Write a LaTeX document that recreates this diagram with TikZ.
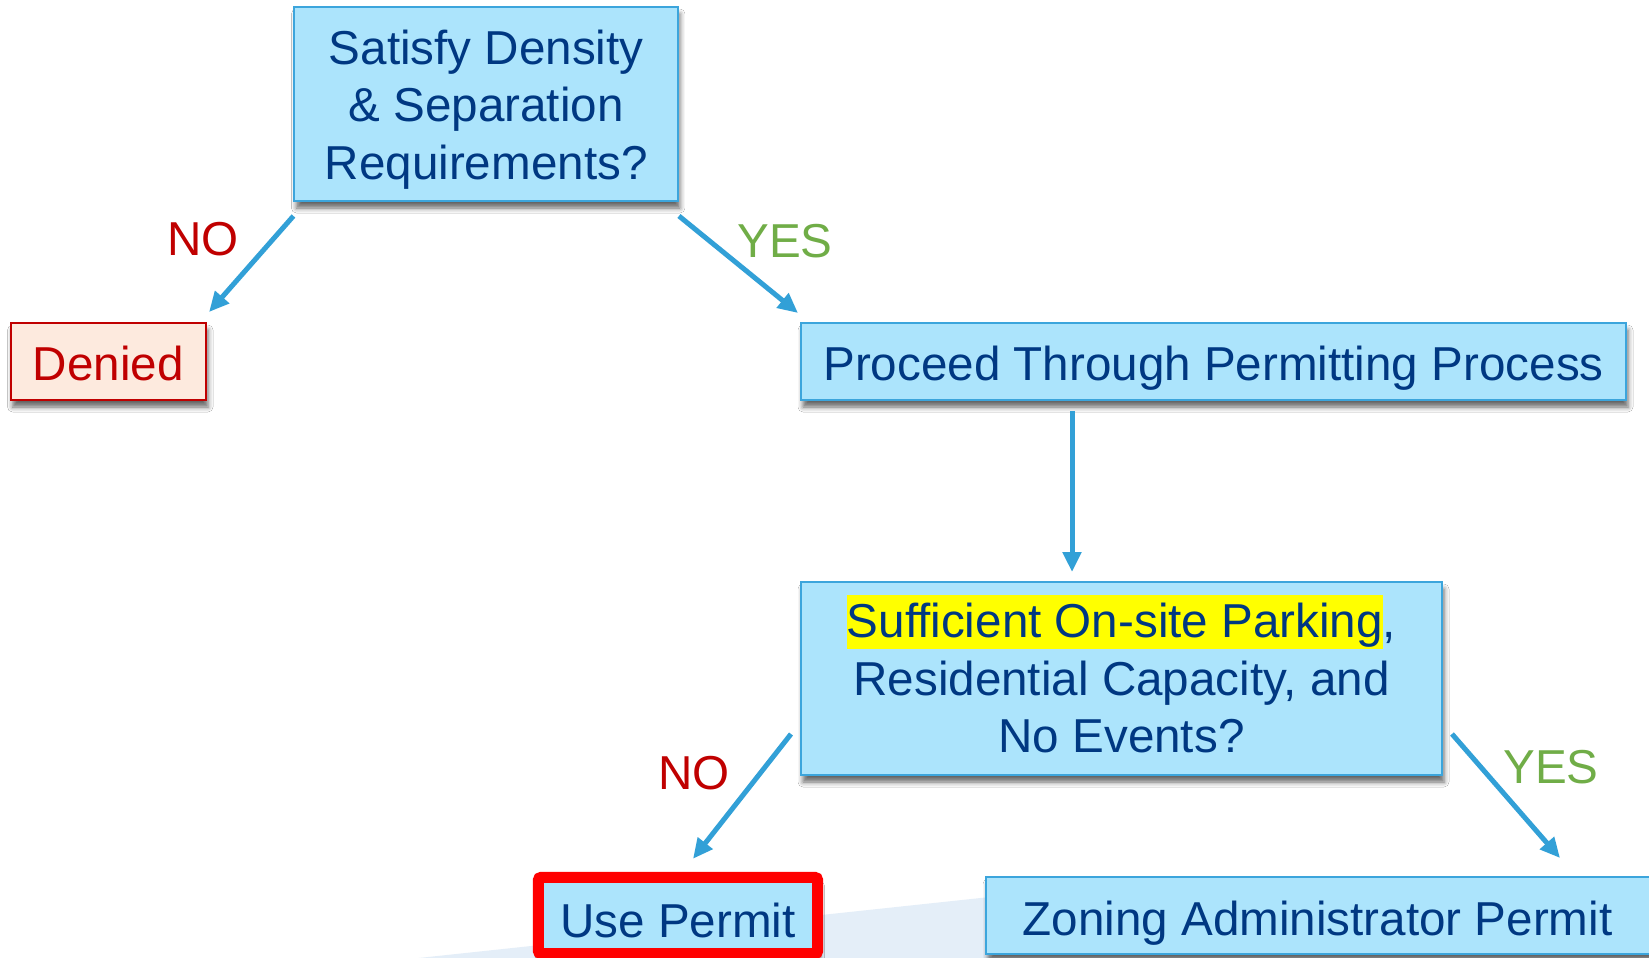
\documentclass[tikz,border=0pt]{standalone}
\usepackage{fontspec}
\setmainfont{Liberation Sans}
\usetikzlibrary{arrows.meta,calc,fit,shadows.blur}
\definecolor{boxfill}{RGB}{172,228,252}
\definecolor{boxline}{RGB}{60,165,220}
\definecolor{txtblue}{RGB}{0,56,130}
\definecolor{arrowc}{RGB}{50,160,215}
\definecolor{nored}{RGB}{192,0,0}
\definecolor{yesgreen}{RGB}{112,173,71}
\definecolor{denfill}{RGB}{253,234,222}
\definecolor{hlyellow}{RGB}{255,255,0}
\definecolor{swoosh}{RGB}{228,238,248}
\newcommand\hlbox[1]{{\setlength{\fboxsep}{0pt}\colorbox{hlyellow}{\rule[-0.23em]{0pt}{1.13em}#1}}}
\tikzset{
  bigfont/.style={font=\fontsize{47.6}{57.5}\selectfont},
  shad/.style={blur shadow={shadow xshift=2pt,shadow yshift=-7pt,shadow blur radius=5pt,shadow opacity=60}},
  box/.style={rectangle,draw=boxline,line width=2pt,fill=boxfill,inner sep=0pt,shad},
  redbox/.style={rectangle,draw=nored,line width=2pt,fill=denfill,inner sep=0pt,shad},
  txt/.style 2 args={label={[bigfont,text=txtblue,align=center,inner sep=0pt,yshift=-#1pt]center:{#2}}},
  redtxt/.style 2 args={label={[bigfont,text=nored,align=center,inner sep=0pt,yshift=-#1pt]center:{#2}}},
  redframe/.style={rectangle,draw=red,line width=11pt,rounded corners=3pt,inner sep=5.5pt,shad},
  conn/.style={draw=arrowc,line width=5pt,-{Triangle[length=20pt,width=18pt]}},
  lbl/.style={bigfont,inner sep=0pt},
  nolbl/.style={lbl,text=nored},
  yeslbl/.style={lbl,text=yesgreen}
}
\begin{document}
\begin{tikzpicture}[x=1pt,y=-1pt]
\useasboundingbox (0,0) rectangle (1649,958);
\fill[white] (0,0) rectangle (1649,958);
% background swoosh
\fill[swoosh] (400,960) -- (990,897) -- (990,960) -- cycle;
% boxes
\node[box,minimum width=383.5pt,minimum height=194pt,
  txt={5.3}{Satisfy Density\\\& Separation\\Requirements?}] (top) at (486.2,104) {};
\node[redbox,minimum width=195.5pt,minimum height=77pt,
  redtxt={2}{Denied}] (denied) at (108.3,361.5) {};
\node[box,minimum width=825pt,minimum height=77pt,
  txt={6.3}{Proceed Through Permitting Process}] (proceed) at (1213.5,361.5) {};
\node[box,minimum width=641pt,minimum height=193pt,
  txt={-4.2}{\hlbox{Sufficient On-site Parking},\\Residential Capacity, and\\No Events?}] (suff) at (1121.5,678.5) {};
\node[minimum width=268pt,minimum height=65pt,inner sep=0pt] (usepos) at (678,915.5) {};
\node[redframe,fit=(usepos)] (useframe) {};
\node[rectangle,fill=boxfill,inner sep=0pt,minimum width=268pt,minimum height=65pt,
  txt={5.3}{Use Permit}] (use) at (678,915.5) {};
\node[box,minimum width=669pt,minimum height=77pt,
  txt={7.4}{\hspace*{-3pt}Zoning Administrator Permit\hspace*{3pt}}] (zoning) at (1320.5,915.5) {};
% connectors
\draw[conn] ($(top.south west)+(0,14)$) -- ($(denied.north east)+(2,-10)$);
\draw[conn] ($(top.south east)+(0,14)$) -- ($(proceed.north west)+(-2,-9)$);
\draw[conn] ($(proceed.south)+(-141.5,10)$) -- ($(suff.north)+(-49.5,-9)$);
\draw[conn] ($(suff.south west)+(-9,-42)$) -- ($(use.north)+(15,-24)$);
\draw[conn] ($(suff.south east)+(9,-42)$) -- ($(zoning.north)+(239.5,-18)$);
% labels
\node[nolbl] (no1) at (203,239) {NO};
\node[yeslbl] (yes1) at (785,241) {YES};
\node[nolbl] (no2) at (694,773) {NO};
\node[yeslbl] (yes2) at (1551,767) {YES};
\end{tikzpicture}
\end{document}
